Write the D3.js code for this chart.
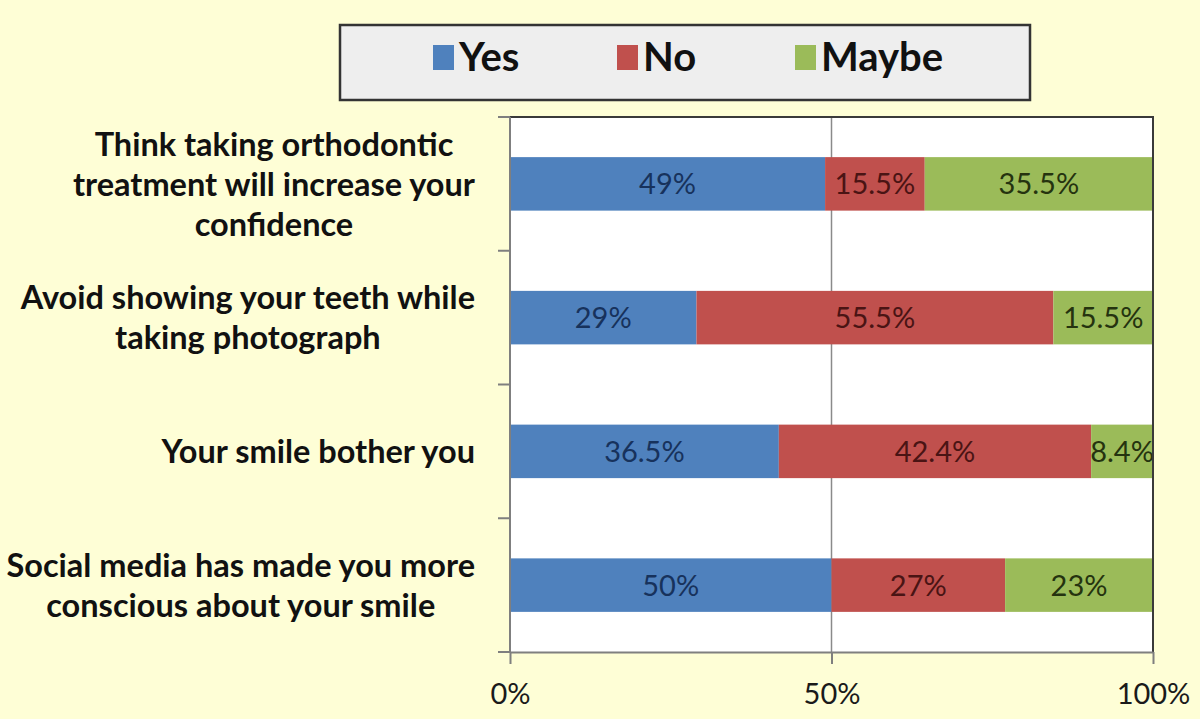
<!DOCTYPE html>
<html>
<head>
<meta charset="utf-8">
<script src="https://cdn.jsdelivr.net/npm/d3@7"></script>
<style>
  body { margin: 0; background: #fefed6; }
  svg { display: block; font-family: Lato, "Open Sans", sans-serif; }
</style>
</head>
<body>
<div id="chart"></div>
<script>
// categories, top to bottom
var categories = [
	["Think taking orthodontic", "treatment will increase your", "confidence"],
	["Avoid showing your teeth while", "taking photograph"],
	["Your smile bother you"],
	["Social media has made you more", "conscious about your smile"]
];
var seriesNames = ["Yes", "No", "Maybe"];
var yesValues = [49, 29, 36.5, 50];
var noValues = [15.5, 55.5, 42.4, 27];
var maybeValues = [35.5, 15.5, 8.4, 23];
var tickLabels = ["0%", "50%", "100%"];

var colors = ["#4f81bd", "#c0504d", "#9bbb59"];
var textColors = ["#17325c", "#4a1414", "#25330f"];

var width = 1200, height = 719;
var plotLeft = 510, plotRight = 1153, plotTop = 117, plotBottom = 652;

var rows = categories.map(function(c, i) {
	return { key: i, Yes: yesValues[i], No: noValues[i], Maybe: maybeValues[i] };
});

// Excel 100% stacked: each row is normalised
var stacked = d3.stack().keys(seriesNames).offset(d3.stackOffsetExpand)(rows);

var svg = d3.select("#chart").append("svg")
	.attr("width", width)
	.attr("height", height);

var x = d3.scaleLinear().domain([0, 1]).range([plotLeft, plotRight]);
var y = d3.scaleBand().domain(d3.range(categories.length)).range([plotTop, plotBottom])
	.paddingInner(0.6).paddingOuter(0.3);

// plot area
svg.append("rect")
	.attr("x", plotLeft).attr("y", plotTop)
	.attr("width", plotRight - plotLeft).attr("height", plotBottom - plotTop)
	.attr("fill", "#ffffff");

// 50% gridline
svg.append("line")
	.attr("x1", x(0.5)).attr("x2", x(0.5))
	.attr("y1", plotTop).attr("y2", plotBottom)
	.attr("stroke", "#8a8a8a").attr("stroke-width", 1.5);

// bars
var groups = svg.selectAll(".series")
	.data(stacked)
	.enter().append("g")
	.attr("class", "series")
	.attr("fill", function(d, i) { return colors[i]; });

groups.selectAll("rect")
	.data(function(d) { return d; })
	.enter().append("rect")
	.attr("x", function(d) { return x(d[0]); })
	.attr("y", function(d) { return y(d.data.key); })
	.attr("width", function(d) { return x(d[1]) - x(d[0]); })
	.attr("height", y.bandwidth());

// bar value labels (raw values)
stacked.forEach(function(s, si) {
	svg.selectAll(".lbl" + si)
		.data(s)
		.enter().append("text")
		.attr("class", "lbl" + si)
		.attr("x", function(d) { return (x(d[0]) + x(d[1])) / 2; })
		.attr("y", function(d) { return y(d.data.key) + y.bandwidth() / 2; })
		.attr("dy", "0.36em")
		.attr("text-anchor", "middle")
		.attr("font-size", 29)
		.attr("fill", textColors[si])
		.text(function(d) { return d.data[s.key] + "%"; });
});

// top and right border
svg.append("path")
	.attr("d", "M" + plotLeft + "," + plotTop + "H" + plotRight + "V" + plotBottom)
	.attr("fill", "none")
	.attr("stroke", "#3a3a3a").attr("stroke-width", 2);

// left axis with ticks at category boundaries
var yTicks = d3.range(categories.length + 1).map(function(i) { return plotTop + i * y.step(); });
svg.append("line")
	.attr("x1", plotLeft).attr("x2", plotLeft).attr("y1", plotTop).attr("y2", plotBottom)
	.attr("stroke", "#7f7f7f").attr("stroke-width", 2);
svg.selectAll(".ytick")
	.data(yTicks)
	.enter().append("line")
	.attr("class", "ytick")
	.attr("x1", plotLeft - 12).attr("x2", plotLeft)
	.attr("y1", function(d) { return d; }).attr("y2", function(d) { return d; })
	.attr("stroke", "#7f7f7f").attr("stroke-width", 2);

// bottom axis
var xAxis = d3.axisBottom(x)
	.tickValues([0, 0.5, 1])
	.tickSize(12)
	.tickSizeOuter(0)
	.tickFormat(function(d, i) { return tickLabels[i]; });

var gx = svg.append("g")
	.attr("transform", "translate(0," + plotBottom + ")")
	.call(xAxis);
gx.select(".domain").attr("stroke", "#7f7f7f").attr("stroke-width", 2);
gx.selectAll(".tick line").attr("stroke", "#7f7f7f").attr("stroke-width", 2);
gx.selectAll(".tick text")
	.attr("y", 31)
	.attr("font-family", "Lato, sans-serif")
	.attr("font-size", 29)
	.attr("fill", "#1a1a1a");

// category labels, each block centred and right aligned at x = 475
var lineH = 40;
categories.forEach(function(lines, i) {
	var cy = y(i) + y.bandwidth() / 2;
	var t = svg.append("text")
		.attr("font-size", 32.5)
		.attr("font-weight", 700)
		.attr("fill", "#111")
		.attr("text-anchor", "middle");
	lines.forEach(function(line, j) {
		t.append("tspan")
			.attr("y", cy + (j - (lines.length - 1) / 2) * lineH)
			.attr("dy", "0.36em")
			.text(line);
	});
	var maxW = d3.max(t.selectAll("tspan").nodes(), function(n) { return n.getComputedTextLength(); });
	t.selectAll("tspan").attr("x", 475 - maxW / 2);
});

// legend
var legend = svg.append("g");
legend.append("rect")
	.attr("x", 340).attr("y", 25)
	.attr("width", 690).attr("height", 75)
	.attr("fill", "#eeeeee")
	.attr("stroke", "#333").attr("stroke-width", 2.5);

var legendX = [433, 617, 795];
seriesNames.forEach(function(name, i) {
	legend.append("rect")
		.attr("x", legendX[i]).attr("y", 45)
		.attr("width", 21).attr("height", 25)
		.attr("fill", colors[i]);
	legend.append("text")
		.attr("x", legendX[i] + 26).attr("y", 71)
		.attr("font-size", 40)
		.attr("font-weight", 700)
		.attr("fill", "#111")
		.text(name);
});
</script>
</body>
</html>
